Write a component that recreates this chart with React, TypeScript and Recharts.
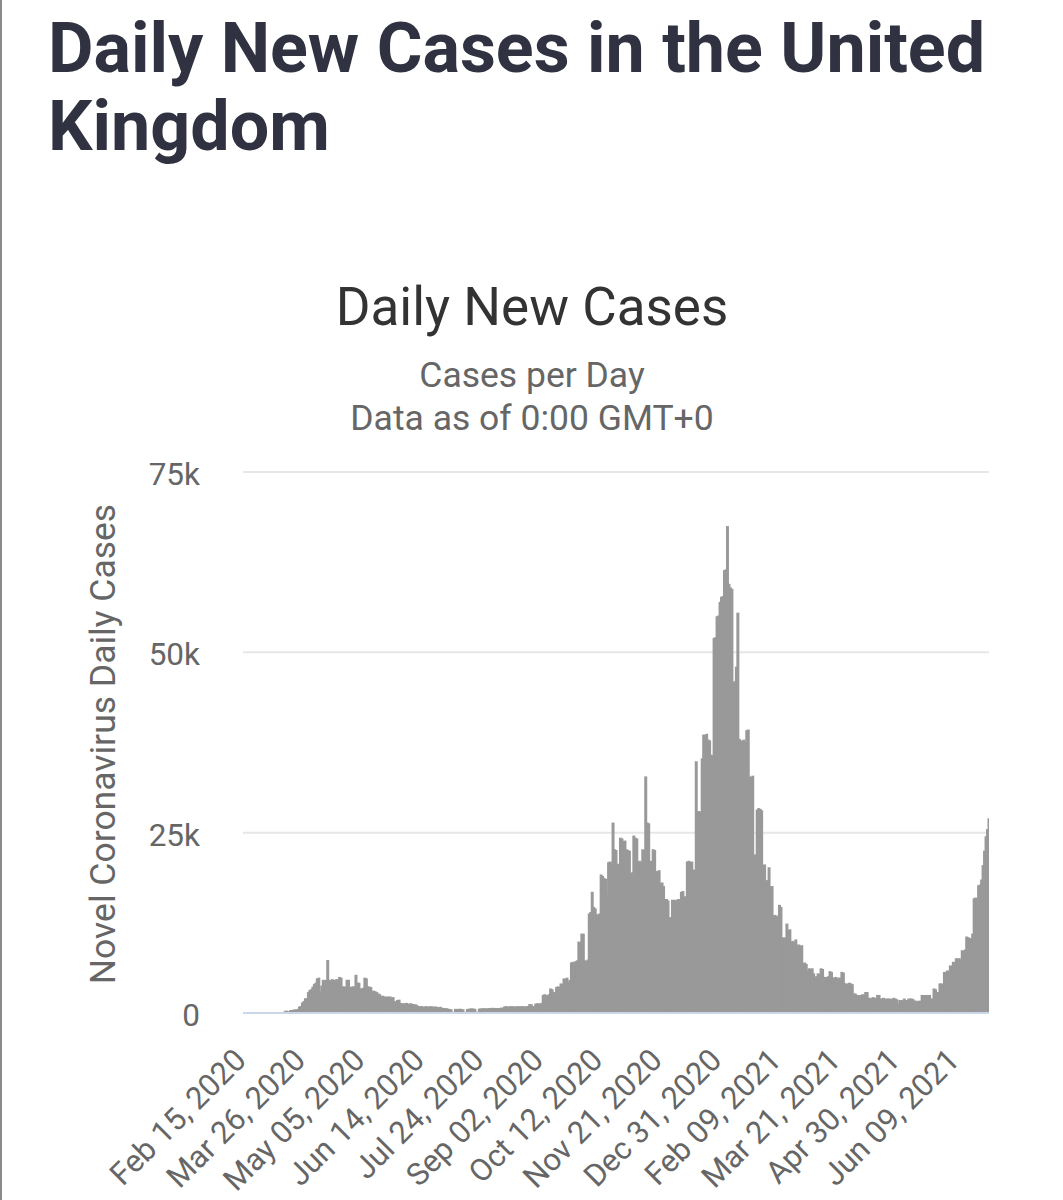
import React from "react";
import { BarChart, Bar, XAxis, YAxis, CartesianGrid } from "recharts";

// daily new cases, one array per month
const feb2020 = [0, 0, 0, 0, 0, 0, 0, 0, 0, 0, 0, 0, 0, 3, 4];
const mar2020 = [
  12, 4, 11, 34, 29, 48, 45, 69, 43, 62, 77, 130, 208, 342, 251, 152, 407, 420,
  450, 500, 460, 560, 900, 960, 1450, 1650, 2050, 2000, 2900, 3200, 3300,
];
const apr2020 = [
  3650, 4000, 4200, 4800, 4900, 3000, 3800, 4600, 4500, 4600, 7350, 4600, 4400,
  4700, 4600, 4500, 4700, 4600, 5000, 4900, 3650, 3700, 3600, 4600, 4600, 3650,
  3600, 3700, 3650, 5300,
];
const may2020 = [
  4200, 4200, 3400, 3400, 3500, 4900, 4800, 3700, 3650, 3600, 3000, 3100, 3000,
  2900, 2700, 2600, 2300, 2400, 2300, 2200, 2300, 2200, 2300, 2100, 2200, 1600,
  1650, 1800, 1850, 1400, 1300,
];
const jun2020 = [
  1350, 1300, 1400, 1250, 1300, 1350, 1250, 1200, 1200, 1100, 950, 900, 950,
  900, 850, 950, 900, 850, 950, 900, 900, 850, 900, 800, 800, 850, 650, 700,
  650, 650,
];
const jul2020 = [
  600, 550, 520, 150, 160, 580, 540, 560, 600, 530, 520, 150, 170, 560, 580,
  620, 640, 600, 580, 150, 180, 600, 620, 640, 660, 640, 620, 650, 680, 700,
  720,
];
const aug2020 = [
  650, 700, 680, 650, 700, 750, 720, 900, 950, 880, 900, 920, 950, 900, 880,
  920, 950, 900, 920, 960, 900, 880, 950, 980, 1250, 1200, 950, 900, 1300,
  1350, 1300,
];
const sep2020 = [
  1300, 1400, 2500, 2600, 2400, 2500, 2600, 3400, 3300, 2900, 2800, 3600, 3700,
  3600, 4100, 4000, 4800, 4700, 4900, 4300, 4600, 7000, 7100, 7000, 7200, 7300,
  9900, 9800, 11000, 11000,
];
const oct2020 = [
  7300, 7200, 7400, 13800, 14000, 16800, 14700, 14500, 13700, 13600, 13800,
  19200, 19000, 18700, 18600, 16400, 20900, 21000, 20800, 26400, 22700, 22600,
  20600, 20700, 24300, 24200, 23800, 23900, 22700, 22600, 22500,
];
const nov2020 = [
  19400, 19500, 24600, 24300, 24200, 21000, 21100, 20900, 22700, 22600, 32800,
  26400, 26300, 21000, 21100, 22700, 22600, 19700, 19600, 19800, 18000, 18100,
  17600, 15700, 15800, 15600, 13200, 13300, 15700, 15600,
];
const dec2020 = [
  15700, 15600, 15800, 15700, 16800, 16900, 16100, 16200, 21000, 21100, 20900,
  21000, 19900, 19800, 34900, 27900, 28000, 27800, 35300, 38600, 38500, 38700,
  37900, 37800, 35800, 35700, 52000, 52100, 55000, 55100, 57000,
];
const jan2021 = [
  57700, 57800, 61400, 61500, 67500, 59500, 59000, 58800, 45800, 46000, 48000,
  55500, 38000, 37800, 37700, 37900, 37600, 39200, 39300, 32800, 32700, 32900,
  21900, 22000, 28200, 28400, 28300, 28100, 20500, 20600, 18400,
];
const feb2021 = [
  18400, 20200, 17500, 17600, 13500, 13600, 13400, 13500, 15000, 14700, 10400,
  10500, 10400, 12400, 11500, 11600, 9900, 10000, 9800, 10200, 9400, 9500,
  9300, 9400, 6900, 7000, 6800, 5900,
];
const mar2021 = [
  6200, 6100, 6200, 5500, 5000, 5100, 5500, 5400, 6200, 6100, 5000, 5000, 4900,
  5100, 5800, 5700, 4900, 4900, 5000, 4800, 4900, 4900, 5700, 5600, 4100, 4100,
  4000, 4200, 4100, 4000, 2700,
];
const apr2021 = [
  2700, 2500, 2500, 2400, 2500, 2600, 2500, 2900, 2900, 2100, 2100, 2000, 2200,
  2100, 2100, 2500, 2500, 2000, 2000, 2100, 1900, 2000, 2000, 2000, 1900, 2000,
  2100, 2000, 1900, 1300,
];
const may2021 = [
  1800, 1800, 1700, 2000, 1800, 1800, 2000, 2000, 2000, 1900, 1700, 1700, 1600,
  1700, 1700, 2500, 2500, 2400, 2500, 2500, 2500, 2000, 2000, 3400, 3300, 2900,
  2900, 4100, 4100, 4000, 5700,
];
const jun2021 = [
  5600, 5900, 5800, 6600, 6500, 7100, 7000, 7600, 7500, 7600, 7300, 8700, 8600,
  8800, 10600, 10500, 10400, 10300, 11000, 15900, 16000, 15800, 17700, 17800,
  18500, 20500, 22500, 24500, 25500, 27000,
];

const dailyCases = [
  ...feb2020, ...mar2020, ...apr2020, ...may2020, ...jun2020, ...jul2020,
  ...aug2020, ...sep2020, ...oct2020, ...nov2020, ...dec2020, ...jan2021,
  ...feb2021, ...mar2021, ...apr2021, ...may2021, ...jun2021,
];

const xTicks = [
  "Feb 15, 2020", "Mar 26, 2020", "May 05, 2020", "Jun 14, 2020",
  "Jul 24, 2020", "Sep 02, 2020", "Oct 12, 2020", "Nov 21, 2020",
  "Dec 31, 2020", "Feb 09, 2021", "Mar 21, 2021", "Apr 30, 2021",
  "Jun 09, 2021",
];
const yTicks = [0, 25000, 50000, 75000];

const MONTHS = ["Jan", "Feb", "Mar", "Apr", "May", "Jun", "Jul", "Aug", "Sep", "Oct", "Nov", "Dec"];
const START = Date.UTC(2020, 1, 15);
const fmtDate = (i: number) => {
  const d = new Date(START + i * 86400000);
  return `${MONTHS[d.getUTCMonth()]} ${String(d.getUTCDate()).padStart(2, "0")}, ${d.getUTCFullYear()}`;
};

const data = dailyCases.map((cases, i) => ({ date: fmtDate(i), cases }));

// layout
const W = 1063;
const H = 1200;
const PLOT_LEFT = 243;
const PLOT_RIGHT = 989;
const PLOT_TOP = 472;
const PLOT_BOTTOM = 1013;
const BAND = (PLOT_RIGHT - PLOT_LEFT) / data.length;
const FONT = "Roboto, 'Noto Sans', sans-serif";

if (typeof document !== "undefined") document.body.style.margin = "0";

// columns fill the whole category band (recharts floors the bar width)
const Column = (props: any) => {
  const { x, y, height } = props;
  if (!height || height <= 0) return null;
  const right = Math.min(x + BAND + 1.5, PLOT_RIGHT);
  return <rect x={x} y={y} width={right - x} height={height} fill="#999999" />;
};

const XTick = ({ x, y, payload }: any) => {
  const ax = x + 4;
  const ay = y + 49;
  return (
    <text
      x={ax}
      y={ay}
      textAnchor="end"
      transform={`rotate(-45, ${ax}, ${ay})`}
      fontSize={31}
      fill="#666666"
      fontFamily={FONT}
    >
      {payload.value}
    </text>
  );
};

const YTick = ({ x, y, payload }: any) => (
  <text x={x - 43} y={y + 13} textAnchor="end" fontSize={31.5} fill="#666666" fontFamily={FONT}>
    {payload.value === 0 ? "0" : `${payload.value / 1000}k`}
  </text>
);

export default function App() {
  return (
    <div style={{ position: "relative", width: W, height: H, background: "#fff", overflow: "hidden" }}>
      <BarChart
        width={W}
        height={H}
        data={data}
        barCategoryGap={0}
        barGap={0}
        margin={{ top: PLOT_TOP, right: W - PLOT_RIGHT, bottom: 0, left: 0 }}
      >
        <CartesianGrid vertical={false} stroke="#e6e6e6" strokeWidth={2} />
        <XAxis
          dataKey="date"
          ticks={xTicks}
          interval={0}
          height={H - PLOT_BOTTOM}
          tickLine={false}
          tickSize={0}
          tickMargin={0}
          axisLine={{ stroke: "#ccd6eb", strokeWidth: 2 }}
          tick={<XTick />}
        />
        <YAxis
          width={PLOT_LEFT}
          domain={[0, 75000]}
          ticks={yTicks}
          axisLine={false}
          tickLine={false}
          tickSize={0}
          tickMargin={0}
          tick={<YTick />}
        />
        <Bar dataKey="cases" shape={<Column />} isAnimationActive={false} />
      </BarChart>
      <svg
        width={W}
        height={H}
        style={{ position: "absolute", left: 0, top: 0, pointerEvents: "none" }}
      >
        <line x1={1} y1={0} x2={1} y2={H} stroke="#8a8a8a" strokeWidth={2} />
        <text x={48} y={72} fontSize={70} fontWeight={700} fill="#303241" fontFamily={FONT}>
          Daily New Cases in the United
        </text>
        <text x={48} y={150} fontSize={70} fontWeight={700} fill="#303241" fontFamily={FONT}>
          Kingdom
        </text>
        <text x={532} y={325} fontSize={53} textAnchor="middle" fill="#333333" fontFamily={FONT}>
          Daily New Cases
        </text>
        <text x={532} y={387} fontSize={35.5} textAnchor="middle" fill="#666666" fontFamily={FONT}>
          Cases per Day
        </text>
        <text x={532} y={430} fontSize={35.5} textAnchor="middle" fill="#666666" fontFamily={FONT}>
          Data as of 0:00 GMT+0
        </text>
        <text
          x={115}
          y={744}
          fontSize={35.5}
          textAnchor="middle"
          fill="#666666"
          fontFamily={FONT}
          transform="rotate(-90, 115, 744)"
        >
          Novel Coronavirus Daily Cases
        </text>
      </svg>
    </div>
  );
}
